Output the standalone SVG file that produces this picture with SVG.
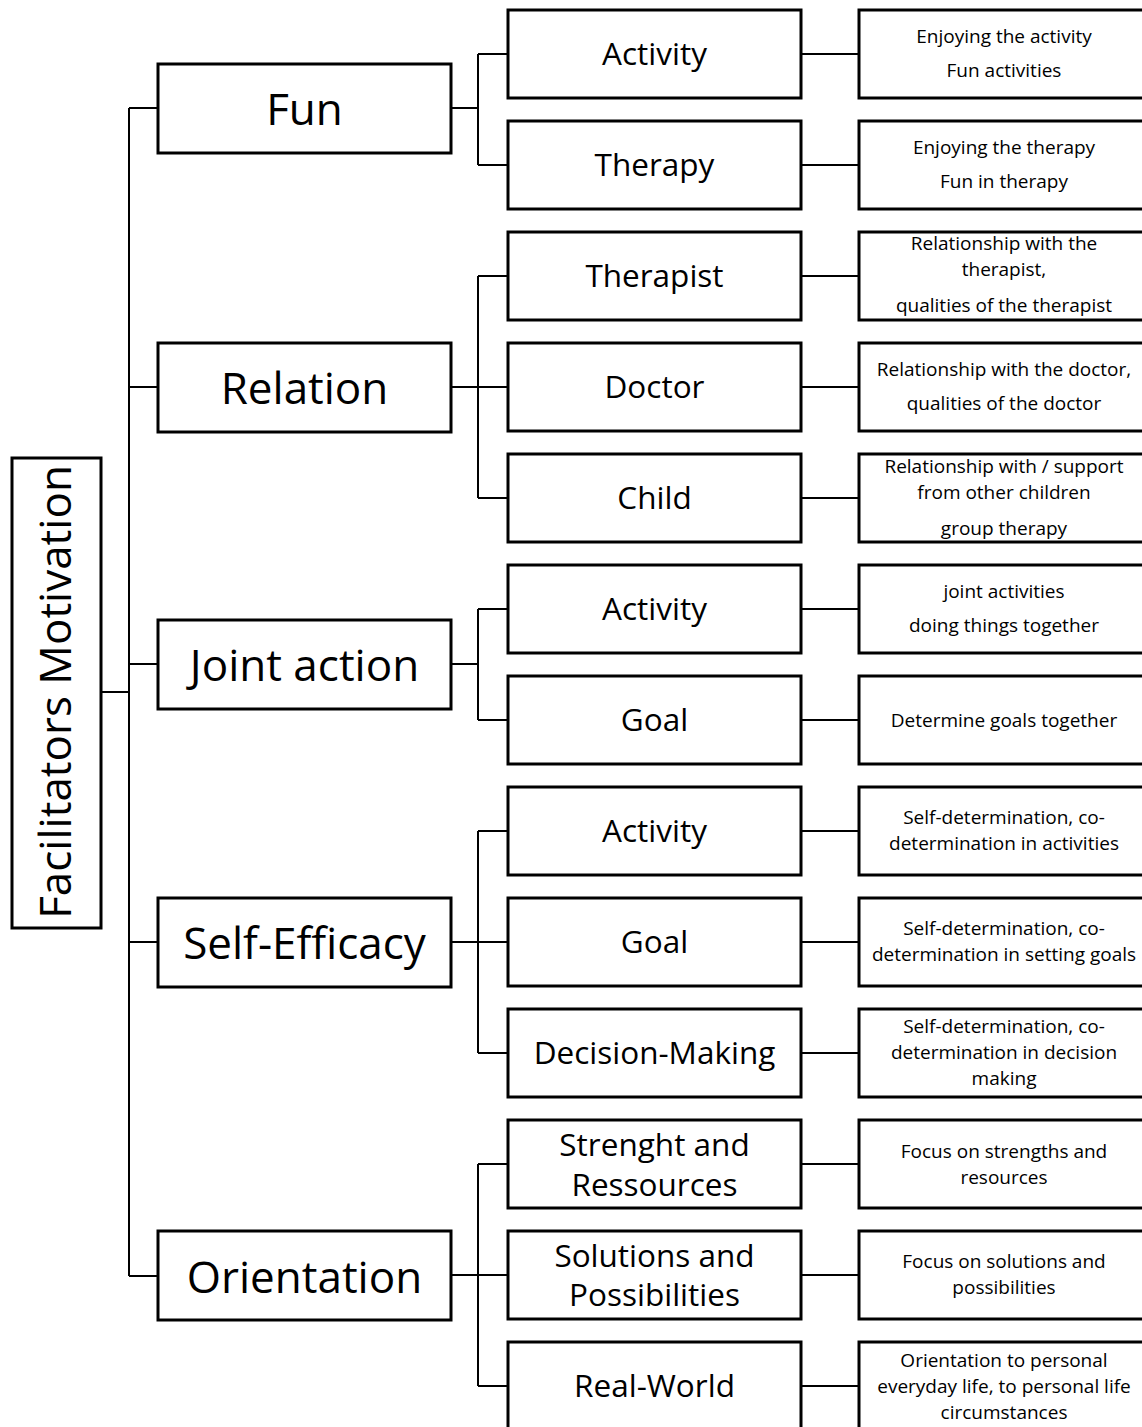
<svg xmlns="http://www.w3.org/2000/svg" width="1142" height="1427" viewBox="0 0 1142 1427">
<style>
.box{fill:#fff;stroke:#000;stroke-width:3}
.c{fill:none;stroke:#000;stroke-width:2}
text{font-family:"Open Sans","Noto Sans",sans-serif;fill:#000;text-anchor:middle;dominant-baseline:central}
.t0{font-size:44px}
.t1{font-size:44px}
.t2{font-size:31.5px}
.t3{font-size:19px}
</style>
<rect width="1142" height="1427" fill="#fff"/>
<g id="connectors">
<path class="c" d="M101 692H129M129 108V1276M129 108H158M129 387H158M129 664H158M129 942H158M129 1276H158"/>
<path class="c" d="M451 108H478M478 54V165M478 54H508M478 165H508"/>
<path class="c" d="M451 387H508M478 276V498M478 276H508M478 498H508"/>
<path class="c" d="M451 664H478M478 609V720M478 609H508M478 720H508"/>
<path class="c" d="M451 942H508M478 831V1053M478 831H508M478 1053H508"/>
<path class="c" d="M451 1275H508M478 1164V1386M478 1164H508M478 1386H508"/>
<path class="c" d="M801 54H859M801 165H859M801 276H859M801 387H859M801 498H859M801 609H859M801 720H859M801 831H859M801 942H859M801 1053H859M801 1164H859M801 1275H859M801 1386H859"/>
</g>
<g id="root"><rect class="box" x="12" y="458" width="89" height="470"/><text class="t0" transform="translate(54 692) rotate(-90)">Facilitators Motivation</text></g>
<g id="fun"><rect class="box" x="158" y="64" width="293" height="89"/><text class="t1" x="304.5" y="108">Fun</text></g>
<g id="relation"><rect class="box" x="158" y="343" width="293" height="89"/><text class="t1" x="304.5" y="387">Relation</text></g>
<g id="joint"><rect class="box" x="158" y="620" width="293" height="89"/><text class="t1" x="304.5" y="664">Joint action</text></g>
<g id="selfeff"><rect class="box" x="158" y="898" width="293" height="89"/><text class="t1" x="304.5" y="942">Self-Efficacy</text></g>
<g id="orient"><rect class="box" x="158" y="1231" width="293" height="89"/><text class="t1" x="304.5" y="1276">Orientation</text></g>

<g id="fun-activity"><rect class="box" x="508" y="10" width="293" height="88"/><text class="t2" x="654.5" y="52">Activity</text></g>
<g id="fun-therapy"><rect class="box" x="508" y="121" width="293" height="88"/><text class="t2" x="654.5" y="163">Therapy</text></g>
<g id="rel-therapist"><rect class="box" x="508" y="232" width="293" height="88"/><text class="t2" x="654.5" y="274">Therapist</text></g>
<g id="rel-doctor"><rect class="box" x="508" y="343" width="293" height="88"/><text class="t2" x="654.5" y="385">Doctor</text></g>
<g id="rel-child"><rect class="box" x="508" y="454" width="293" height="88"/><text class="t2" x="654.5" y="496">Child</text></g>
<g id="joint-activity"><rect class="box" x="508" y="565" width="293" height="88"/><text class="t2" x="654.5" y="607">Activity</text></g>
<g id="joint-goal"><rect class="box" x="508" y="676" width="293" height="88"/><text class="t2" x="654.5" y="718">Goal</text></g>
<g id="se-activity"><rect class="box" x="508" y="787" width="293" height="88"/><text class="t2" x="654.5" y="829">Activity</text></g>
<g id="se-goal"><rect class="box" x="508" y="898" width="293" height="88"/><text class="t2" x="654.5" y="940">Goal</text></g>
<g id="se-decision"><rect class="box" x="508" y="1009" width="293" height="88"/><text class="t2" x="654.5" y="1051">Decision-Making</text></g>
<g id="or-strength"><rect class="box" x="508" y="1120" width="293" height="88"/><text class="t2" x="654.5" y="1143">Strenght and</text><text class="t2" x="654.5" y="1183">Ressources</text></g>
<g id="or-solutions"><rect class="box" x="508" y="1231" width="293" height="88"/><text class="t2" x="654.5" y="1254">Solutions and</text><text class="t2" x="654.5" y="1293">Possibilities</text></g>
<g id="or-real"><rect class="box" x="508" y="1342" width="293" height="90"/><text class="t2" x="654.5" y="1384">Real-World</text></g>

<g id="d1"><rect class="box" x="859" y="10" width="292" height="88"/><text class="t3" x="1004" y="36">Enjoying the activity</text><text class="t3" x="1004" y="70">Fun activities</text></g>
<g id="d2"><rect class="box" x="859" y="121" width="292" height="88"/><text class="t3" x="1004" y="147">Enjoying the therapy</text><text class="t3" x="1004" y="181">Fun in therapy</text></g>
<g id="d3"><rect class="box" x="859" y="232" width="292" height="88"/><text class="t3" x="1004" y="243">Relationship with the</text><text class="t3" x="1004" y="269">therapist,</text><text class="t3" x="1004" y="305">qualities of the therapist</text></g>
<g id="d4"><rect class="box" x="859" y="343" width="292" height="88"/><text class="t3" x="1004" y="369">Relationship with the doctor,</text><text class="t3" x="1004" y="403">qualities of the doctor</text></g>
<g id="d5"><rect class="box" x="859" y="454" width="292" height="88"/><text class="t3" x="1004" y="466">Relationship with / support</text><text class="t3" x="1004" y="492">from other children</text><text class="t3" x="1004" y="528">group therapy</text></g>
<g id="d6"><rect class="box" x="859" y="565" width="292" height="88"/><text class="t3" x="1004" y="591">joint activities</text><text class="t3" x="1004" y="625">doing things together</text></g>
<g id="d7"><rect class="box" x="859" y="676" width="292" height="88"/><text class="t3" x="1004" y="720">Determine goals together</text></g>
<g id="d8"><rect class="box" x="859" y="787" width="292" height="88"/><text class="t3" x="1004" y="817">Self-determination, co-</text><text class="t3" x="1004" y="843">determination in activities</text></g>
<g id="d9"><rect class="box" x="859" y="898" width="292" height="88"/><text class="t3" x="1004" y="928">Self-determination, co-</text><text class="t3" x="1004" y="954">determination in setting goals</text></g>
<g id="d10"><rect class="box" x="859" y="1009" width="292" height="88"/><text class="t3" x="1004" y="1026">Self-determination, co-</text><text class="t3" x="1004" y="1052">determination in decision</text><text class="t3" x="1004" y="1078">making</text></g>
<g id="d11"><rect class="box" x="859" y="1120" width="292" height="88"/><text class="t3" x="1004" y="1151">Focus on strengths and</text><text class="t3" x="1004" y="1177">resources</text></g>
<g id="d12"><rect class="box" x="859" y="1231" width="292" height="88"/><text class="t3" x="1004" y="1261">Focus on solutions and</text><text class="t3" x="1004" y="1287">possibilities</text></g>
<g id="d13"><rect class="box" x="859" y="1342" width="292" height="90"/><text class="t3" x="1004" y="1360">Orientation to personal</text><text class="t3" x="1004" y="1386">everyday life, to personal life</text><text class="t3" x="1004" y="1412">circumstances</text></g>
</svg>
